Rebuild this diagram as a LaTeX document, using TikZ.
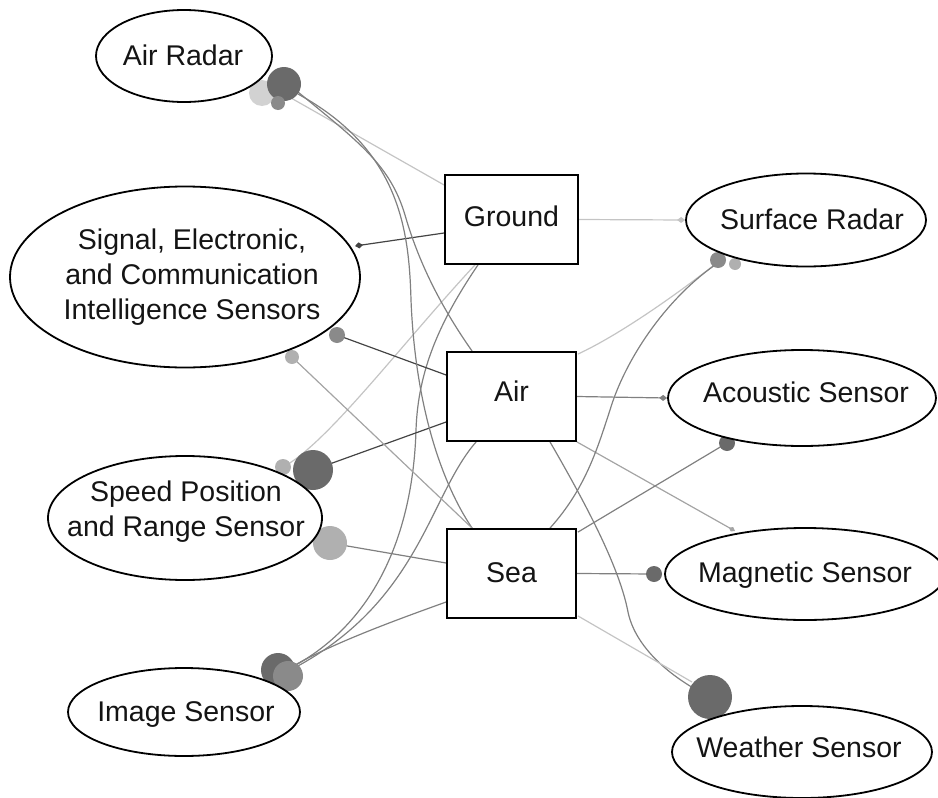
\documentclass[tikz,border=0pt]{standalone}
\usepackage{fontspec}
\setmainfont{Liberation Sans}
\usetikzlibrary{shapes.geometric,arrows.meta,calc}
\pgfdeclarelayer{links}
\pgfsetlayers{links,main}

\definecolor{ink}{HTML}{141414}
\definecolor{lkdark}{HTML}{444444}
\definecolor{lkmid}{HTML}{808080}
\definecolor{lkpale}{HTML}{a4a4a4}
\definecolor{lklight}{HTML}{c4c4c4}
\definecolor{dotdark}{HTML}{6a6a6a}
\definecolor{dotmid}{HTML}{8a8a8a}
\definecolor{dotpale}{HTML}{b0b0b0}
\definecolor{dotlight}{HTML}{d2d2d2}

\tikzset{
  sensor/.style={ellipse, draw=black, line width=1.8pt, fill=white, inner sep=0pt},
  realmbox/.style={rectangle, draw=black, line width=1.8pt, fill=white, inner sep=0pt},
  caption/.style={font=\fontsize{28.5}{35}\selectfont, text=ink, align=center, inner sep=0pt},
  link/.style={line width=1.2pt},
  diamondtip/.style={-{Diamond[length=8pt,width=6pt]}},
}

\begin{document}
\begin{tikzpicture}[x=1pt,y=-1pt]
\useasboundingbox (0,0) rectangle (938,798);

% sensor ellipses
\node[sensor, minimum width=176pt, minimum height=92pt]  (airradar) at (184,56)  {};
\node[sensor, minimum width=350pt, minimum height=181pt] (signal)   at (185,277) {};
\node[sensor, minimum width=274pt, minimum height=124pt] (speed)    at (185,518) {};
\node[sensor, minimum width=232pt, minimum height=88pt]  (image)    at (184,712) {};
\node[sensor, minimum width=240pt, minimum height=93pt]  (surface)  at (806,220) {};
\node[sensor, minimum width=268pt, minimum height=96pt]  (acoustic) at (802,398) {};
\node[sensor, minimum width=280pt, minimum height=92pt]  (magnetic) at (805,574) {};
\node[sensor, minimum width=260pt, minimum height=92pt]  (weather)  at (802,752) {};

% domain boxes
\node[realmbox, minimum width=133pt, minimum height=89pt] (ground) at (511.5,219.5) {};
\node[realmbox, minimum width=129pt, minimum height=89pt] (air)    at (511.5,396.5) {};
\node[realmbox, minimum width=129pt, minimum height=89pt] (sea)    at (511.5,573.5) {};

% labels
\node[caption] (airradartxt) at (183,55)    {Air Radar};
\node[caption] (signaltxt)   at (192,277.5) {Signal, Electronic,\\and Communication\\Intelligence Sensors};
\node[caption] (speedtxt)    at (186,512)   {Speed Position\\and Range Sensor};
\node[caption] (imagetxt)    at (186,714.5) {Image Sensor};
\node[caption] (surfacetxt)  at (812,219.5) {Surface Radar};
\node[caption] (acoustictxt) at (806,392.5) {Acoustic Sensor};
\node[caption] (magnetictxt) at (805,575.5) {Magnetic Sensor};
\node[caption] (weathertxt)  at (799,747.5) {Weather Sensor};
\node[caption] (groundtxt)   at (511.5,216.5) {Ground};
\node[caption] (airtxt)      at (511.5,391.5) {Air};
\node[caption] (seatxt)      at (511.5,573)   {Sea};

\begin{pgfonlayer}{links}
  % ---- Ground ----
  \draw[link, lklight, diamondtip] (ground.east) -- (surface.west);
  \draw[link, lkdark, -{Diamond[length=8pt,width=6pt]}] ($(ground.west)+(0,13.5)$) -- ($(signal)+(170,-31)$);
  \draw[link, lklight] ($(ground.west)+(0,-34.5)$) -- ($(airradar)+(100,38)$);
  \draw[link, lklight] ($(ground.south)+(-36.5,0)$)
        .. controls +(-75,81) and +(45,-26) .. ($(speed)+(100,-52)$);
  \draw[link, lkmid] ($(ground.south)+(-33.5,0)$)
        .. controls +(-38,56) and +(2,-60) .. (416,430)
        .. controls +(-2,70) and +(100,-55) .. ($(image)+(110,-46)$);

  % ---- Air ----
  \draw[link, lkmid] ($(air.north west)+(26,0)$)
        .. controls +(-33,-47) and +(13,45) .. (405,215)
        .. controls +(-15,-50) and +(62,51) .. ($(airradar)+(114,36)$);
  \draw[link, lkdark] ($(air.west)+(0,-21.5)$) -- ($(signal)+(152,58)$);
  \draw[link, lkdark] ($(air.west)+(0,25.5)$) -- ($(speed)+(128,-48)$);
  \draw[link, lkmid] ($(air.south west)+(30,0)$)
        .. controls +(-47,54) and +(124,-67) .. ($(image)+(112,-45)$);
  \draw[link, lklight] ($(air.north east)+(1,3)$)
        .. controls +(43,-20) and +(-38,30) .. ($(surface)+(-88,42)$);
  \draw[link, lkmid, diamondtip] (air.east) -- (acoustic.west);
  \draw[link, lkpale, -{Diamond[length=7pt,width=5pt]}] (air.south east) -- ($(magnetic)+(-70,-43)$);
  \draw[link, lkmid] ($(air.south)+(38.5,0)$)
        .. controls +(40,69) and +(-8,-42) .. (628,612)
        .. controls +(8,38) and +(-35,-17) .. ($(weather)+(-92,-55)$);

  % ---- Sea ----
  \draw[link, lkmid] ($(sea.north west)+(26,0)$)
        .. controls +(-33,-49) and +(4,100) .. (411,300)
        .. controls +(-2,-70) and +(102,56) .. ($(airradar)+(114,38)$);
  \draw[link, lkpale] ($(sea.north west)+(26,0)$) -- ($(signal)+(107,80)$);
  \draw[link, lkmid] ($(sea.west)+(0,-10.5)$) -- ($(speed)+(145,25)$);
  \draw[link, lkmid] ($(sea.west)+(0,28.5)$)
        .. controls +(-50,18) and +(40,-24) .. ($(image)+(106,-44)$);
  \draw[link, lkmid] ($(sea.north)+(38.5,0)$)
        .. controls +(35,-39) and +(-13,40) .. (610,410)
        .. controls +(15,-50) and +(-50,35) .. ($(surface)+(-91,45)$);
  \draw[link, lkmid] ($(sea.north east)+(1,4)$) -- ($(acoustic)+(-75,45)$);
  \draw[link, lkmid] (sea.east) -- ($(magnetic)+(-150,0)$);
  \draw[link, lklight] ($(sea.south east)+(1,-3)$) -- ($(weather)+(-110,-70)$);

  % ---- end dots ----
  \fill[dotlight] ($(airradar)+(78,37)$)   circle (13pt);
  \fill[dotdark]  ($(airradar)+(100,28)$)  circle (17pt);
  \fill[dotmid]   ($(airradar)+(94,47)$)   circle (7pt);
  \fill[dotmid]   ($(signal)+(152,58)$)    circle (8pt);
  \fill[dotpale]  ($(signal)+(107,80)$)    circle (7pt);
  \fill[dotpale]  ($(speed)+(98,-51)$)     circle (8pt);
  \fill[dotdark]  ($(speed)+(128,-48)$)    circle (20pt);
  \fill[dotpale]  ($(speed)+(145,25)$)     circle (17pt);
  \fill[dotdark]  ($(image)+(94,-42)$)     circle (17pt);
  \fill[dotmid]   ($(image)+(104,-36)$)    circle (15pt);
  \fill[dotmid]   ($(surface)+(-88,40)$)   circle (8pt);
  \fill[dotpale]  ($(surface)+(-71,44)$)   circle (6pt);
  \fill[dotdark]  ($(acoustic)+(-75,45)$)  circle (8pt);
  \fill[dotdark]  ($(magnetic)+(-151,0)$)  circle (8pt);
  \fill[dotdark]  ($(weather)+(-92,-55)$)  circle (22pt);
\end{pgfonlayer}
\end{tikzpicture}
\end{document}
